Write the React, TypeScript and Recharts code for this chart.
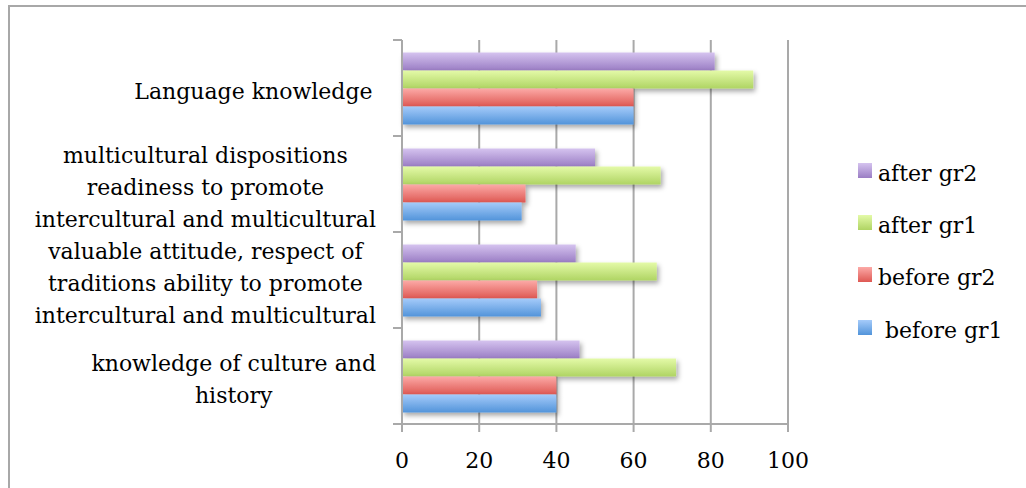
import { Bar, BarChart, CartesianGrid, XAxis, YAxis } from "recharts";

const categories = [
  "Language knowledge",
  "multicultural dispositions readiness to promote intercultural and multicultural",
  "valuable attitude, respect of traditions ability to promote intercultural and multicultural",
  "knowledge of culture and history",
];

// how the labels wrap in the original
const categoryLines = [
  ["Language knowledge "],
  ["multicultural dispositions", "readiness to promote", "intercultural and multicultural"],
  ["valuable attitude, respect of", "traditions ability to promote", "intercultural and multicultural"],
  ["knowledge of culture and", "history"],
];

const afterGr2 = [81, 50, 45, 46];
const afterGr1 = [91, 67, 66, 71];
const beforeGr2 = [60, 32, 35, 40];
const beforeGr1 = [60, 31, 36, 40];

const xTicks = [0, 20, 40, 60, 80, 100];

const series = [
  { key: "afterGr2", name: "after gr2", values: afterGr2, top: "#d5c3ef", bottom: "#9a7dc4" },
  { key: "afterGr1", name: "after gr1", values: afterGr1, top: "#e4faa8", bottom: "#afd463" },
  { key: "beforeGr2", name: "before gr2", values: beforeGr2, top: "#fcaaa7", bottom: "#de5853" },
  { key: "beforeGr1", name: " before gr1", values: beforeGr1, top: "#a5cbfa", bottom: "#5294da" },
];

const data = categories.map((name, i) => {
  const row: Record<string, string | number> = { name };
  series.forEach((s) => {
    row[s.key] = s.values[i];
  });
  return row;
});

const FONT = '"DejaVu Serif", serif';
const FONT_SIZE = 22;
const LINE_H = 32;
const GRID = "#a9a9a9";

let ctx: CanvasRenderingContext2D | null = null;
const textWidth = (s: string) => {
  if (!ctx) {
    ctx = document.createElement("canvas").getContext("2d");
    if (ctx) ctx.font = `${FONT_SIZE}px "DejaVu Serif"`;
  }
  return ctx ? ctx.measureText(s).width : s.length * 11;
};

const CategoryTick = (props: any) => {
  const { x, y, payload, index } = props;
  const idx = categories.indexOf(payload.value);
  const lines = categoryLines[idx] || [String(payload.value)];
  const half = payload.offset || 48;
  const right = x - 26;
  const block = Math.max(...lines.map(textWidth));
  const cx = right - block / 2;
  const n = lines.length;
  return (
    <g>
      <line x1={x - 9} x2={x} y1={y - half} y2={y - half} stroke={GRID} strokeWidth={2} />
      {index === categories.length - 1 && (
        <line x1={x - 9} x2={x} y1={y + half} y2={y + half} stroke={GRID} strokeWidth={2} />
      )}
      <text textAnchor="middle" fontFamily={FONT} fontSize={FONT_SIZE} fill="#000">
        {lines.map((l, i) => (
          <tspan key={i} x={cx} y={y + 11 + (i - (n - 1) / 2) * LINE_H}>
            {l}
          </tspan>
        ))}
      </text>
    </g>
  );
};

export default function App() {
  return (
    <div style={{ position: "absolute", left: 0, top: 0, width: 1026, height: 488, background: "#fff" }}>
      <div
        style={{
          position: "absolute",
          left: 8,
          top: 5,
          width: 1018,
          height: 483,
          boxSizing: "border-box",
          borderLeft: "2px solid #a8a8a8",
          borderTop: "2px solid #a8a8a8",
        }}
      />
      <div style={{ position: "absolute", left: 0, top: 0 }}>
        <BarChart
          layout="vertical"
          width={1026}
          height={488}
          data={data}
          margin={{ top: 40, right: 238, bottom: 0, left: 10 }}
          barCategoryGap="13%"
          barGap={0}
        >
          <defs>
            {series.map((s) => (
              <linearGradient key={s.key} id={`g_${s.key}`} x1="0" y1="0" x2="0" y2="1">
                <stop offset="0%" stopColor={s.top} />
                <stop offset="100%" stopColor={s.bottom} />
              </linearGradient>
            ))}
            <filter id="shadow" x="-5%" y="-30%" width="115%" height="190%">
              <feDropShadow dx="2" dy="3" stdDeviation="2.5" floodColor="#000" floodOpacity="0.35" />
            </filter>
          </defs>
          <CartesianGrid horizontal={false} stroke={GRID} strokeWidth={2} />
          <XAxis
            type="number"
            domain={[0, 100]}
            ticks={xTicks}
            height={64}
            tickSize={8}
            tickMargin={20}
            stroke={GRID}
            strokeWidth={2}
            tick={{ fill: "#000", fontFamily: FONT, fontSize: FONT_SIZE }}
          />
          <YAxis
            type="category"
            dataKey="name"
            width={392}
            tickSize={0}
            tickMargin={0}
            tickLine={false}
            stroke={GRID}
            strokeWidth={2}
            interval={0}
            tick={<CategoryTick />}
          />
          {series.map((s) => (
            <Bar
              key={s.key}
              dataKey={s.key}
              name={s.name}
              fill={`url(#g_${s.key})`}
              filter="url(#shadow)"
              isAnimationActive={false}
            />
          ))}
        </BarChart>
      </div>
      <div style={{ position: "absolute", left: 858, top: 144, width: 160 }}>
        {series.map((s) => (
          <div key={s.key} style={{ height: 52.3, display: "flex", alignItems: "center" }}>
            <div
              style={{
                width: 14,
                height: 15,
                background: `linear-gradient(${s.top}, ${s.bottom})`,
                flex: "none",
              }}
            />
            <span
              style={{
                marginLeft: 6,
                fontFamily: FONT,
                fontSize: FONT_SIZE,
                whiteSpace: "pre",
                position: "relative",
                top: 3,
                color: "#000",
              }}
            >
              {s.name}
            </span>
          </div>
        ))}
      </div>
    </div>
  );
}
